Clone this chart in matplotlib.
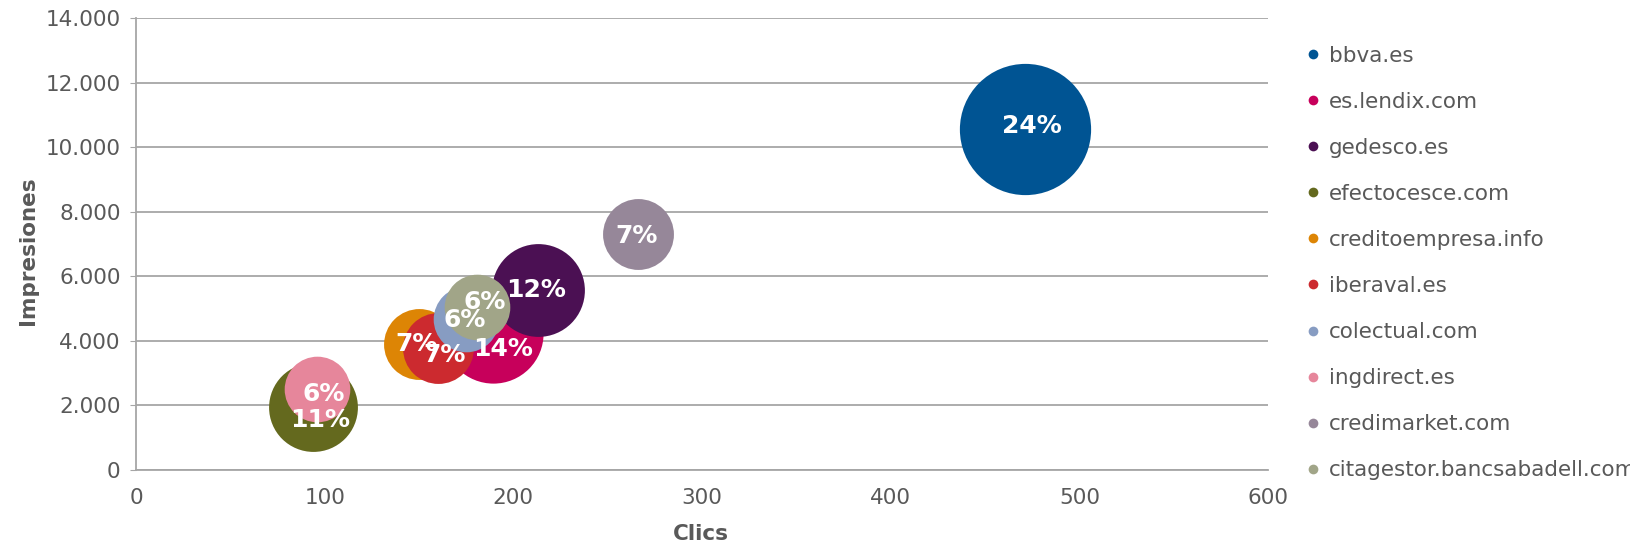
import matplotlib
matplotlib.use("Agg")
import matplotlib.pyplot as plt
from matplotlib.lines import Line2D
from matplotlib.ticker import FuncFormatter, MultipleLocator

# ---- data ----
sites = ["bbva.es", "es.lendix.com", "gedesco.es", "efectocesce.com",
         "creditoempresa.info", "iberaval.es", "colectual.com",
         "ingdirect.es", "credimarket.com", "citagestor.bancsabadell.com"]
clics = [471, 189, 213, 94, 150, 160, 175, 96, 266, 181]
impresiones = [10575, 4230, 5577, 1962, 3900, 3770, 4683, 2516, 7304, 5054]
share = [24, 14, 12, 11, 7, 7, 6, 6, 7, 6]   # % shown in bubbles

colors = ["#005493", "#C7005B", "#4B1053", "#64691E", "#DD8505",
          "#CC2A2F", "#879CC2", "#E6869B", "#968799", "#A1A588"]

# label nudges in points (the labels were dragged a bit in the original)
label_nudge = [(5, 2), (7.5, -11), (-1, 0), (5, -9.5), (-2, 0),
               (5, -5), (-1, -1), (4.5, -4), (-1, -1), (5, 3.5)]

grey = "#595959"
grid_grey = "#A6A6A6"

W, H = 1631, 544
fig = plt.figure(figsize=(W / 100, H / 100), dpi=100)
ax = fig.add_axes([136 / W, (H - 470) / H, (1268 - 136) / W, (470 - 18) / H])

size_per_pct = 372  # bubble area (pt^2) per percent point
for i in range(len(sites)):
    ax.scatter(clics[i], impresiones[i], s=share[i] * size_per_pct,
               color=colors[i], linewidths=0, zorder=3 + i)

for i in range(len(sites)):
    ax.annotate(f"{share[i]}%", (clics[i], impresiones[i]),
                xytext=label_nudge[i], textcoords="offset points",
                ha="center", va="center", color="white",
                fontsize=18, fontweight="bold", zorder=30)

ax.set_xlim(0, 600)
ax.set_ylim(0, 14000)
ax.xaxis.set_major_locator(MultipleLocator(100))
ax.yaxis.set_major_locator(MultipleLocator(2000))
ax.yaxis.set_major_formatter(FuncFormatter(lambda v, p: f"{int(v):,}".replace(",", ".")))

# Decorations
ax.grid(True, axis="y", color=grid_grey, linewidth=1.3, zorder=0)
ax.set_axisbelow(True)
for side in ["top", "right"]:
    ax.spines[side].set_visible(False)
for side in ["left", "bottom"]:
    ax.spines[side].set_color(grid_grey)
    ax.spines[side].set_linewidth(1.3)
ax.tick_params(axis="y", length=4, color=grid_grey, labelcolor=grey,
               labelsize=15.5, pad=7)
ax.tick_params(axis="x", length=0, labelcolor=grey, labelsize=15.5, pad=13)

ax.set_xlabel("Clics", color=grey, fontsize=15.5, fontweight="bold", va="center")
ax.set_ylabel("Impresiones", color=grey, fontsize=15.5, fontweight="bold", va="center")
ax.xaxis.set_label_coords(701 / W, 1 - 534 / H, transform=fig.transFigure)
ax.yaxis.set_label_coords(28 / W, 1 - 251 / H, transform=fig.transFigure)

handles = [Line2D([], [], marker="o", linestyle="", markersize=7,
                  markerfacecolor=c, markeredgewidth=0) for c in colors]
leg = fig.legend(handles, sites, loc="upper left",
                 bbox_to_anchor=(1296 / W, 1 - 35 / H),
                 frameon=False, fontsize=15.5, labelspacing=1.21,
                 handlelength=0.6, handletextpad=0.45, borderpad=0)
for t in leg.get_texts():
    t.set_color(grey)

fig.savefig("out.png", dpi=100)
